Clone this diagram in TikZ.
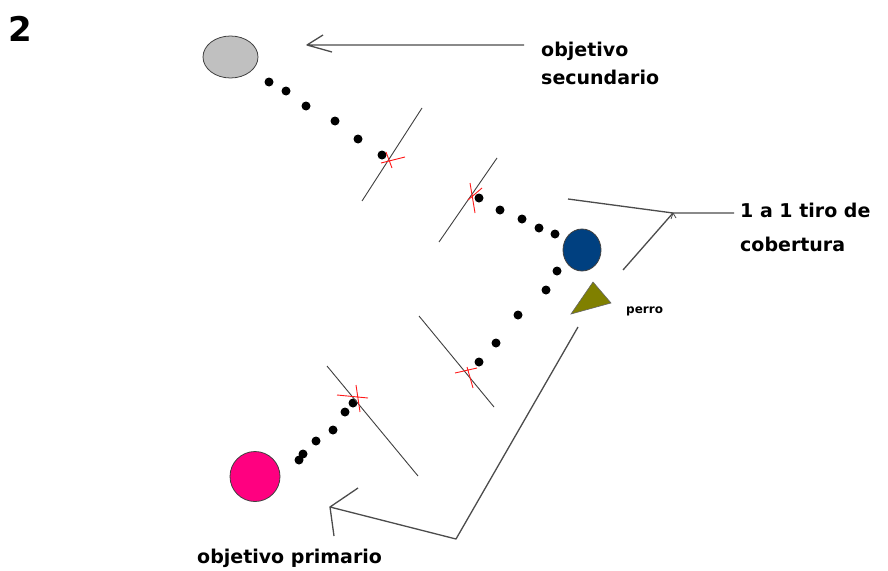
\documentclass[tikz,border=0pt]{standalone}
\usepackage{fontspec}
\setmainfont{DejaVu Sans}
\usetikzlibrary{shapes.geometric}
\definecolor{secgray}{RGB}{192,192,192}
\definecolor{covblue}{RGB}{0,64,128}
\definecolor{primpink}{RGB}{255,0,128}
\definecolor{dogolive}{RGB}{128,128,0}
\begin{document}
\begin{tikzpicture}[x=1pt,y=-1pt,
  dot/.style={circle,fill=black,inner sep=0pt,minimum size=9pt},
  barrier/.style={draw=black!75,line width=0.9pt},
  hit/.style={draw=red!90,line width=0.9pt},
  callout/.style={draw=black!70,line width=1.3pt,line join=round},
  lbl/.style={font=\bfseries\fontsize{19}{23}\selectfont,inner sep=0pt,anchor=base west},
  target/.style={draw=black!75,line width=0.8pt,inner sep=0pt}]
\useasboundingbox[fill=white] (0,0) rectangle (888,570);

% targets
\node[target,ellipse,fill=secgray,minimum width=55pt,minimum height=42pt] (sec) at (230.5,57) {};
\node[target,ellipse,fill=covblue,minimum width=38pt,minimum height=42pt] (cov) at (582,250) {};
\node[target,circle,fill=primpink,minimum size=50pt] (pri) at (255,476.5) {};
\coordinate (d1) at (593,282);
\coordinate (d2) at (611,303);
\coordinate (d3) at (571,314);
\filldraw[fill=dogolive,draw=black!60,line width=0.6pt] (d1) -- (d2) -- (d3) -- cycle;

% dotted paths
\foreach \p [count=\i] in {(269,82),(286,91),(306,106),(335,121),(358,139),(382,155)}
  \node[dot] (a\i) at \p {};
\foreach \p [count=\i] in {(479,198),(500,210),(522,219),(539,228),(555,234)}
  \node[dot] (b\i) at \p {};
\foreach \p [count=\i] in {(557,271),(546,290),(518,315),(496,343),(479,362)}
  \node[dot] (c\i) at \p {};
\foreach \p [count=\i] in {(299,460),(303,454),(316,441),(333,430),(345,412),(353,403)}
  \node[dot] (e\i) at \p {};

% barriers
\coordinate (b1s) at (422,108); \coordinate (b1e) at (362,201);
\coordinate (b2s) at (497,158); \coordinate (b2e) at (439,242);
\coordinate (b3s) at (419,316); \coordinate (b3e) at (494,407);
\coordinate (b4s) at (327,366); \coordinate (b4e) at (418,476);
\draw[barrier] (b1s) -- (b1e);
\draw[barrier] (b2s) -- (b2e);
\draw[barrier] (b3s) -- (b3e);
\draw[barrier] (b4s) -- (b4e);

% red crosses
\coordinate (x1a) at (381,163); \coordinate (x1b) at (405,157);
\coordinate (x1c) at (386,152); \coordinate (x1d) at (392,168);
\coordinate (x2a) at (470,183); \coordinate (x2b) at (475,213);
\coordinate (x2c) at (468,200); \coordinate (x2d) at (482,188);
\coordinate (x3a) at (455,373); \coordinate (x3b) at (477,368);
\coordinate (x3c) at (467,367); \coordinate (x3d) at (473,388);
\coordinate (x4a) at (337,395); \coordinate (x4b) at (368,398);
\coordinate (x4c) at (356,385); \coordinate (x4d) at (360,412);
\draw[hit] (x1a) -- (x1b) (x1c) -- (x1d);
\draw[hit] (x2a) -- (x2b) (x2c) -- (x2d);
\draw[hit] (x3a) -- (x3b) (x3c) -- (x3d);
\draw[hit] (x4a) -- (x4b) (x4c) -- (x4d);

% labels
\node[lbl,font=\bfseries\fontsize{34}{40}\selectfont] (num) at (8,41) {2};
\node[lbl] (secl1) at (541,56) {objetivo};
\node[lbl] (secl2) at (541,84) {secundario};
\node[lbl] (covl1) at (740,217) {1 a 1 tiro de};
\node[lbl] (covl2) at (740,251) {cobertura};
\node[lbl] (pril) at (197,563) {objetivo primario};
\node[lbl,font=\bfseries\fontsize{12}{14}\selectfont] (dogl) at (626,313) {perro};

% callouts
\coordinate (t0) at (307,45); \coordinate (t1) at (524,45);
\coordinate (t2) at (323,35); \coordinate (t3) at (332,52);
\draw[callout] (t1) -- (t0) -- (t2) (t0) -- (t3);

\coordinate (r0) at (568,199); \coordinate (r1) at (673,213);
\coordinate (r2) at (734,213); \coordinate (r3) at (623,270);
\coordinate (r4) at (671,219); \coordinate (r5) at (676,218);
\draw[callout] (r0) -- (r1) -- (r2) (r1) -- (r3);
\draw[callout,line width=0.8pt] (r4) -- (r1) -- (r5);

\coordinate (p0) at (334,536); \coordinate (p1) at (330,507);
\coordinate (p2) at (456,539); \coordinate (p3) at (578,327);
\coordinate (p4) at (358,488);
\draw[callout] (p0) -- (p1) -- (p2) -- (p3) (p1) -- (p4);
\end{tikzpicture}
\end{document}
